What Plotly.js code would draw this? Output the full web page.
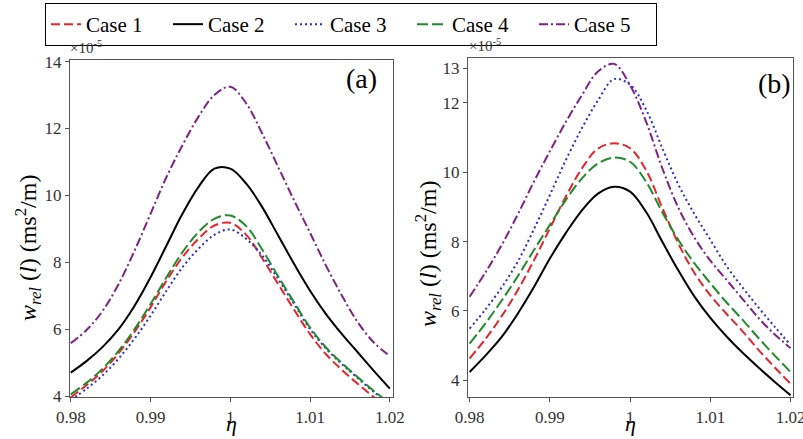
<!DOCTYPE html>
<html>
<head>
<meta charset="utf-8">
<script src="https://cdn.plot.ly/plotly-3.0.1.min.js"></script>
<style>html,body{margin:0;padding:0;background:#fff;}#chart{width:803px;height:439px;}</style>
</head>
<body>
<div id="chart"></div>
<script>
// eta grid (shared by both panels)
const eta = [0.980, 0.982, 0.984, 0.986, 0.988, 0.990, 0.992, 0.994, 0.996, 0.998, 1.000,
             1.002, 1.004, 1.006, 1.008, 1.010, 1.012, 1.014, 1.016, 1.018, 1.020];
const caseNames = ["Case 1", "Case 2", "Case 3", "Case 4", "Case 5"];

// Panel (a) values, x1e-5 ms^2/m
const a_case1 = [3.96, 4.33, 4.75, 5.28, 5.92, 6.65, 7.45, 8.15, 8.70, 9.10, 9.18, 8.82, 8.12, 7.35, 6.58, 5.85, 5.25, 4.78, 4.36, 3.97, 3.60];
const a_case2 = [4.70, 5.05, 5.47, 6.00, 6.70, 7.55, 8.50, 9.45, 10.25, 10.80, 10.80, 10.35, 9.65, 8.80, 7.95, 7.15, 6.45, 5.85, 5.30, 4.75, 4.22];
const a_case3 = [3.88, 4.22, 4.62, 5.12, 5.72, 6.40, 7.15, 7.85, 8.40, 8.82, 8.98, 8.70, 8.20, 7.50, 6.75, 6.00, 5.42, 4.95, 4.53, 4.12, 3.75];
const a_case4 = [4.05, 4.40, 4.82, 5.35, 6.00, 6.75, 7.55, 8.30, 8.90, 9.30, 9.40, 9.08, 8.38, 7.58, 6.80, 6.05, 5.45, 4.98, 4.56, 4.15, 3.78];
const a_case5 = [5.58, 5.98, 6.55, 7.35, 8.35, 9.45, 10.55, 11.50, 12.35, 13.00, 13.25, 12.75, 11.85, 10.85, 9.85, 8.88, 7.90, 7.00, 6.20, 5.60, 5.20];

// Panel (b) values
const b_case1 = [4.63, 5.20, 5.85, 6.60, 7.45, 8.38, 9.30, 10.11, 10.68, 10.83, 10.69, 10.05, 8.98, 7.95, 7.10, 6.45, 5.92, 5.42, 4.88, 4.38, 3.90];
const b_case2 = [4.24, 4.72, 5.25, 5.92, 6.68, 7.51, 8.25, 8.90, 9.38, 9.58, 9.44, 8.85, 8.00, 7.17, 6.42, 5.80, 5.27, 4.80, 4.37, 3.96, 3.57];
const b_case3 = [5.49, 6.05, 6.68, 7.42, 8.35, 9.34, 10.35, 11.27, 12.07, 12.68, 12.52, 11.80, 10.70, 9.65, 8.80, 8.05, 7.30, 6.68, 6.10, 5.55, 5.02];
const b_case4 = [5.06, 5.65, 6.30, 7.00, 7.75, 8.48, 9.20, 9.82, 10.25, 10.42, 10.30, 9.72, 8.85, 8.05, 7.38, 6.80, 6.25, 5.75, 5.22, 4.72, 4.24];
const b_case5 = [6.41, 7.12, 7.90, 8.78, 9.72, 10.60, 11.45, 12.22, 12.90, 13.12, 12.50, 11.45, 10.12, 8.98, 8.12, 7.45, 6.90, 6.35, 5.80, 5.33, 4.93];

const xTickVals = [0.98, 0.99, 1.0, 1.01, 1.02];
const xTickText = ["0.98", "0.99", "1", "1.01", "1.02"];
const yTickA = [4, 6, 8, 10, 12, 14];
const yTickB = [4, 6, 8, 10, 12, 13];

const styles = [
  {color: "#e8232b", dash: "9px,4px"},
  {color: "#000000", dash: "solid"},
  {color: "#2b2bd6", dash: "2px,3px"},
  {color: "#218a2a", dash: "11px,4px"},
  {color: "#7d2385", dash: "9px,3px,2px,3px"}
];

const panelA = [a_case1, a_case2, a_case3, a_case4, a_case5];
const panelB = [b_case1, b_case2, b_case3, b_case4, b_case5];

const traces = [];
panelA.forEach((vals, i) => {
  traces.push({x: eta, y: vals, type: "scatter", mode: "lines", name: caseNames[i],
    line: {color: styles[i].color, dash: styles[i].dash, width: 2, shape: "spline", smoothing: 1},
    xaxis: "x", yaxis: "y", showlegend: true});
});
panelB.forEach((vals, i) => {
  traces.push({x: eta, y: vals, type: "scatter", mode: "lines", name: caseNames[i],
    line: {color: styles[i].color, dash: styles[i].dash, width: 2, shape: "spline", smoothing: 1},
    xaxis: "x2", yaxis: "y2", showlegend: false});
});

const FONT = "Liberation Serif";
const ytitle = "<i>w</i><sub><i>rel</i></sub> (<i>l</i>) (ms<sup>2</sup>/m)";

const axCommon = {
  showline: true, linecolor: "#555", linewidth: 1.2, mirror: true,
  ticks: "outside", ticklen: 4, tickcolor: "#555", showgrid: false, zeroline: false,
  ticklabeloverflow: "allow",
  tickfont: {family: FONT, size: 17, color: "#333"}
};

const layout = {
  width: 803, height: 439,
  margin: {l: 0, r: 0, t: 0, b: 0},
  paper_bgcolor: "#fff", plot_bgcolor: "#fff",
  font: {family: FONT, color: "#000"},
  showlegend: true,
  legend: {orientation: "h", x: 45/803, y: 1 - 3/439, xanchor: "left", yanchor: "top",
    bordercolor: "#000", borderwidth: 1, font: {family: FONT, size: 21, color: "#000"},
    entrywidth: 77, entrywidthmode: "pixels", tracegroupgap: 0, bgcolor: "#fff"},
  xaxis: Object.assign({}, axCommon, {domain: [70/803, 393/803], range: [0.9799, 1.0204],
    tickvals: xTickVals, ticktext: xTickText, anchor: "y"}),
  yaxis: Object.assign({}, axCommon, {domain: [(439-397)/439, (439-60)/439], range: [3.97, 14.05],
    tickvals: yTickA, anchor: "x"}),
  xaxis2: Object.assign({}, axCommon, {domain: [468/803, 793/803], range: [0.9798, 1.0203],
    tickvals: xTickVals, ticktext: xTickText, anchor: "y2"}),
  yaxis2: Object.assign({}, axCommon, {domain: [(439-397)/439, (439-58)/439], range: [3.52, 13.29],
    tickvals: yTickB, anchor: "x2"}),
  annotations: [
    {text: ytitle, xref: "paper", yref: "paper", x: 28/803, y: 1 - 248/439, textangle: -90,
      xanchor: "center", yanchor: "middle", showarrow: false, font: {family: FONT, size: 24, color: "#000"}},
    {text: ytitle, xref: "paper", yref: "paper", x: 428/803, y: 1 - 254/439, textangle: -90,
      xanchor: "center", yanchor: "middle", showarrow: false, font: {family: FONT, size: 24, color: "#000"}},
    {text: "<i>η</i>", xref: "paper", yref: "paper", x: 231/803, y: 1/439,
      xanchor: "center", yanchor: "bottom", showarrow: false, font: {family: FONT, size: 22, color: "#000"}},
    {text: "<i>η</i>", xref: "paper", yref: "paper", x: 630/803, y: 1/439,
      xanchor: "center", yanchor: "bottom", showarrow: false, font: {family: FONT, size: 22, color: "#000"}},
    {text: "×10<sup>-5</sup>", xref: "paper", yref: "paper", x: 68/803, y: 1 - 47/439,
      xanchor: "left", yanchor: "middle", showarrow: false, font: {family: FONT, size: 15, color: "#333"}},
    {text: "×10<sup>-5</sup>", xref: "paper", yref: "paper", x: 467/803, y: 1 - 45/439,
      xanchor: "left", yanchor: "middle", showarrow: false, font: {family: FONT, size: 15, color: "#333"}},
    {text: "(a)", xref: "paper", yref: "paper", x: 361/803, y: 1 - 78/439,
      xanchor: "center", yanchor: "middle", showarrow: false, font: {family: FONT, size: 28, color: "#000"}},
    {text: "(b)", xref: "paper", yref: "paper", x: 774/803, y: 1 - 83/439,
      xanchor: "center", yanchor: "middle", showarrow: false, font: {family: FONT, size: 28, color: "#000"}}
  ]
};

Plotly.newPlot("chart", traces, layout, {displayModeBar: false, staticPlot: true});
</script>
</body>
</html>
